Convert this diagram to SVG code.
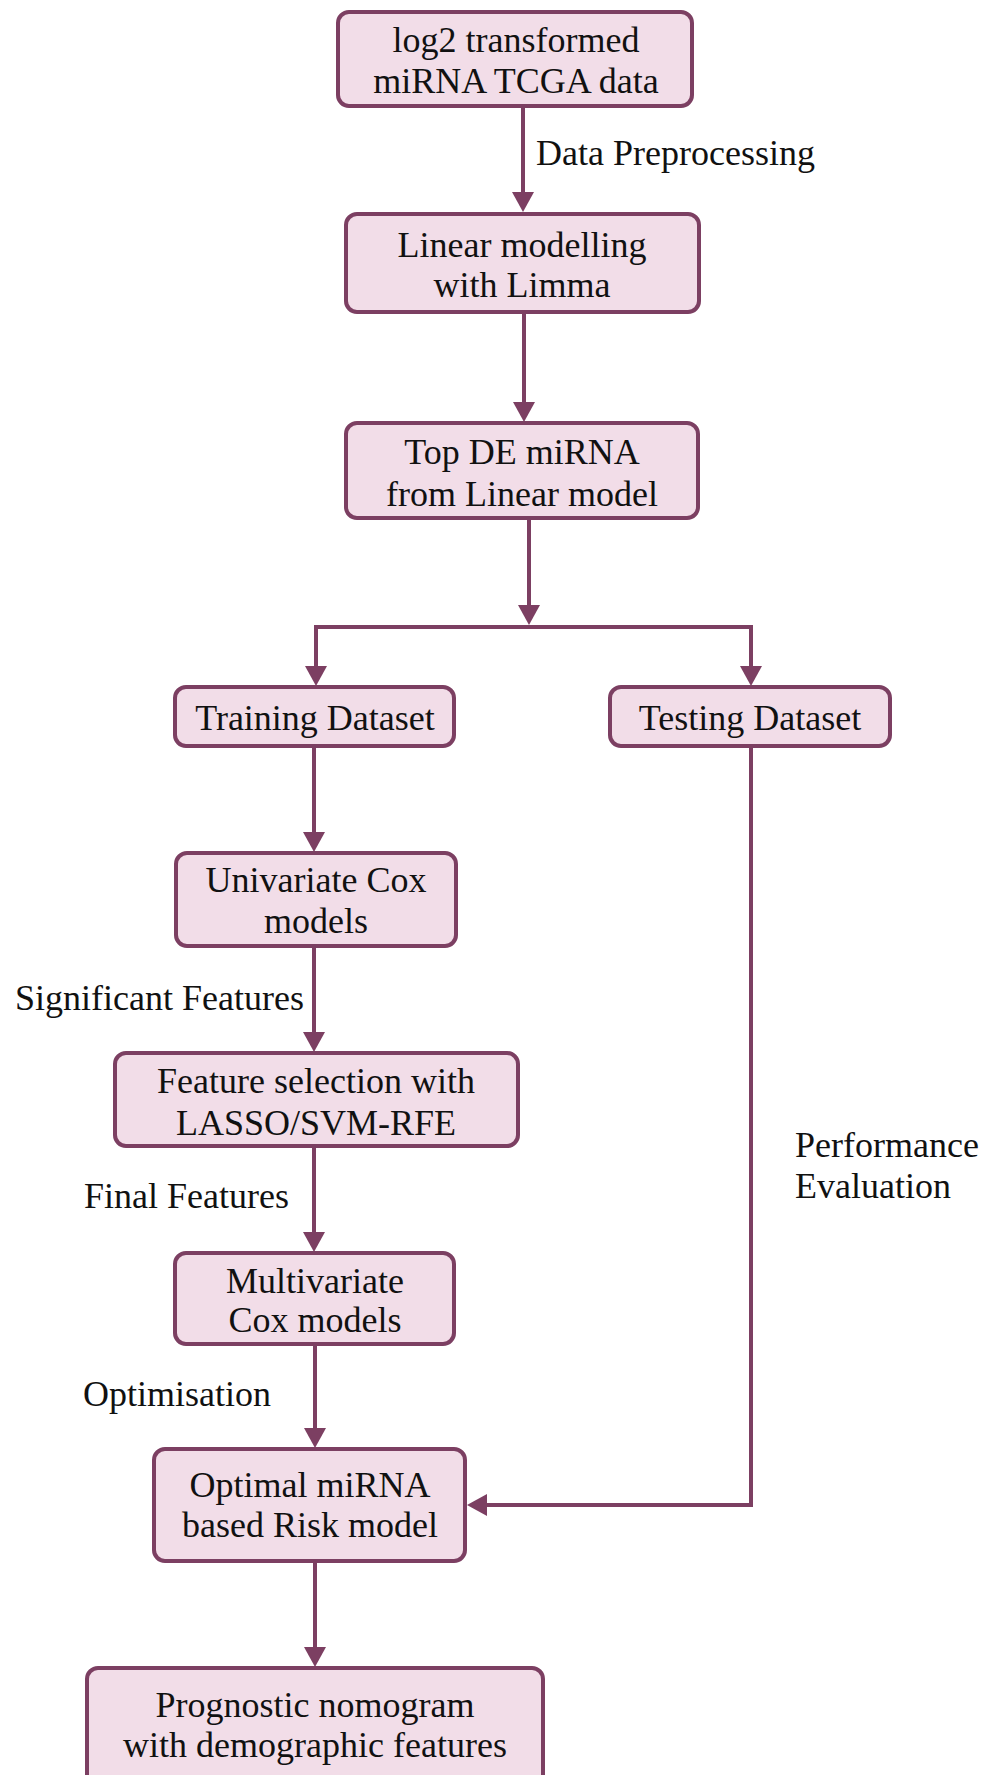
<svg xmlns="http://www.w3.org/2000/svg" width="986" height="1775" viewBox="0 0 986 1775">
<style>
.box{fill:#f2dde8;stroke:#7c3f62;stroke-width:4}
.t{font-family:"Liberation Serif","Times New Roman",serif;font-size:36px;fill:#111;text-anchor:middle}
.l{font-family:"Liberation Serif","Times New Roman",serif;font-size:36px;fill:#111}
.c{fill:none;stroke:#7c3f62;stroke-width:4}
</style>
<defs>
<marker id="ah" viewBox="0 0 20 22" refX="12" refY="11" markerWidth="20" markerHeight="22" markerUnits="userSpaceOnUse" orient="auto">
<path d="M0,0 L20,11 L0,22 z" fill="#7c3f62"/>
</marker>
</defs>
<rect width="986" height="1775" fill="#fff"/>
<g id="connectors">
<path class="c" d="M523,106 V204" marker-end="url(#ah)"/>
<path class="c" d="M524,312 V414" marker-end="url(#ah)"/>
<path class="c" d="M529,518 V617" marker-end="url(#ah)"/>
<path class="c" d="M316,678 V627 H751 V678"/>
<path class="c" d="M316,640 V678" marker-end="url(#ah)"/>
<path class="c" d="M751,640 V678" marker-end="url(#ah)"/>
<path class="c" d="M314,746 V844" marker-end="url(#ah)"/>
<path class="c" d="M314,946 V1044" marker-end="url(#ah)"/>
<path class="c" d="M314,1146 V1244" marker-end="url(#ah)"/>
<path class="c" d="M315,1344 V1440" marker-end="url(#ah)"/>
<path class="c" d="M315,1561 V1659" marker-end="url(#ah)"/>
<path class="c" d="M751,746 V1505 H475" marker-end="url(#ah)"/>
<text class="l" x="536" y="165">Data Preprocessing</text>
<text class="l" x="15" y="1010">Significant Features</text>
<text class="l" x="84" y="1208">Final Features</text>
<text class="l" x="83" y="1406">Optimisation</text>
<text class="l" x="795" y="1157">Performance</text>
<text class="l" x="795" y="1198">Evaluation</text>
</g>
<g id="n1"><rect class="box" x="338" y="12" width="354" height="94" rx="11"/>
<text class="t" x="516" y="52">log2 transformed</text><text class="t" x="516" y="93">miRNA TCGA data</text></g>
<g id="n2"><rect class="box" x="346" y="214" width="353" height="98" rx="11"/>
<text class="t" x="522" y="257">Linear modelling</text><text class="t" x="522" y="297">with Limma</text></g>
<g id="n3"><rect class="box" x="346" y="423" width="352" height="95" rx="11"/>
<text class="t" x="522" y="464">Top DE miRNA</text><text class="t" x="522" y="506">from Linear model</text></g>
<g id="n4"><rect class="box" x="175" y="687" width="279" height="59" rx="11"/>
<text class="t" x="315" y="730">Training Dataset</text></g>
<g id="n5"><rect class="box" x="610" y="687" width="280" height="59" rx="11"/>
<text class="t" x="750" y="730">Testing Dataset</text></g>
<g id="n6"><rect class="box" x="176" y="853" width="280" height="93" rx="11"/>
<text class="t" x="316" y="892">Univariate Cox</text><text class="t" x="316" y="933">models</text></g>
<g id="n7"><rect class="box" x="115" y="1053" width="403" height="93" rx="11"/>
<text class="t" x="316" y="1093">Feature selection with</text><text class="t" x="316" y="1135">LASSO/SVM-RFE</text></g>
<g id="n8"><rect class="box" x="175" y="1253" width="279" height="91" rx="11"/>
<text class="t" x="315" y="1293">Multivariate</text><text class="t" x="315" y="1332">Cox models</text></g>
<g id="n9"><rect class="box" x="154" y="1449" width="311" height="112" rx="11"/>
<text class="t" x="310" y="1497">Optimal miRNA</text><text class="t" x="310" y="1537">based Risk model</text></g>
<g id="n10"><rect class="box" x="87" y="1668" width="456" height="140" rx="11"/>
<text class="t" x="315" y="1717">Prognostic nomogram</text><text class="t" x="315" y="1757">with demographic features</text></g>
</svg>
